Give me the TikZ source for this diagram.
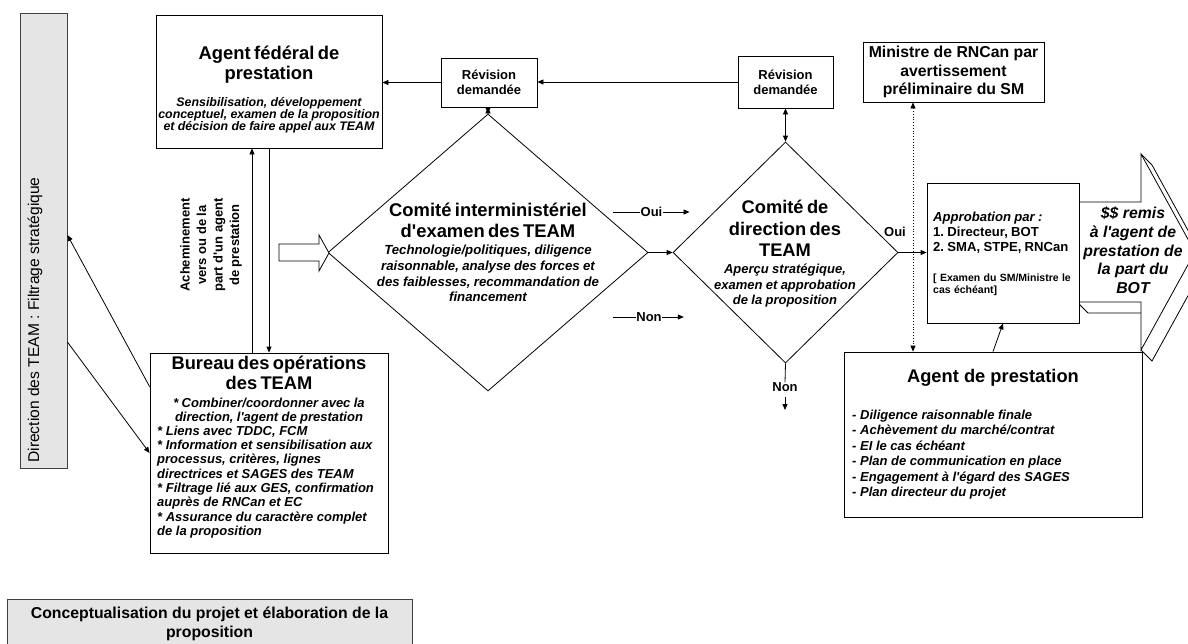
\documentclass[tikz,border=0pt]{standalone}
\usepackage{fontspec}
\setmainfont{Liberation Sans}[Ligatures=TeXOff]
\usetikzlibrary{shapes.geometric,arrows.meta}
\tikzset{
  box/.style={draw, line width=0.8pt, fill=white, inner sep=0pt},
  grey box/.style={draw=black!75, line width=0.8pt, fill=black!10, inner sep=0pt},
  decision/.style={draw, diamond, line width=0.8pt, inner sep=0pt},
  txt/.style={inner sep=0pt, align=center},
  lbl/.style={inner sep=0pt, font=\lblfont},
  flow/.style={line width=0.8pt, -{Triangle[length=6pt,width=5pt]}},
  both flow/.style={line width=0.8pt, {Triangle[length=6pt,width=5pt]}-{Triangle[length=6pt,width=5pt]}},
  }
\newcommand{\lblfont}{\fontsize{13}{15}\selectfont\bfseries}
\newcommand{\bigfont}{\fontsize{15.8}{18.6}\selectfont\bfseries}
\frenchspacing
\hyphenpenalty=10000

\begin{document}
\begin{tikzpicture}[x=1pt,y=-1pt]
            \useasboundingbox (0,0) rectangle (1188,643);
            \clip (0,0) rectangle (1188,643);

            % Left column
            \node[grey box, minimum width=47pt, minimum height=455pt] (dir) at (43.5,240.5) {};
            \node[txt, rotate=90, font=\fontsize{15.6}{18}\selectfont] (dir-txt) at (35,320) {Direction des TEAM : Filtrage stratégique};

            \node[box, minimum width=226pt, minimum height=133pt] (afp) at (269,81.5) {};
            \node[txt, text width=300pt, anchor=north] (afp-txt) at (269,46.2) {\fontsize{18.4}{20}\selectfont\bfseries Agent fédéral de\\prestation\par\vspace{12.3pt}
                \fontsize{12.4}{12.3}\selectfont\bfseries\itshape Sensibilisation, développement\\conceptuel, examen de la proposition\\et décision de faire appel aux TEAM\par};

            \node[box, minimum width=238pt, minimum height=200pt] (bof) at (269,453) {};
            \node[txt, text width=300pt, anchor=north] (bof-top) at (269,356) {\fontsize{18.3}{20}\selectfont\bfseries Bureau des opérations\\des TEAM\par\vspace{3.5pt}
                \fontsize{13}{14.3}\selectfont\bfseries\itshape * Combiner/coordonner avec la\\direction, l'agent de prestation\par};
            \node[txt, align=left, anchor=west, font=\fontsize{13}{14.3}\selectfont\bfseries\itshape] (bof-list) at (157,482) {* Liens avec TDDC, FCM\\* Information et sensibilisation aux\\processus, critères, lignes\\directrices et SAGES des TEAM\\* Filtrage lié aux GES, confirmation\\auprès de RNCan et EC\\* Assurance du caractère complet\\de la proposition};

            \node[txt, rotate=90, font=\fontsize{13}{16.5}\selectfont\bfseries] (ach) at (211,245) {Acheminement\\vers ou de la\\part d'un agent\\de prestation};

            \node[grey box, minimum width=405pt, minimum height=62pt] (concept) at (209.5,630) {};
            \node[txt, font=\bigfont] (concept-txt) at (209.5,624) {Conceptualisation du projet et élaboration de la\\proposition};

            % Committees
            \node[decision, minimum width=320pt, minimum height=277pt] (cie) at (488,252.5) {};
            \node[txt, text width=300pt, anchor=north] (cie-txt) at (488,203.2) {\fontsize{18.4}{21}\selectfont\bfseries Comité interministériel\\d'examen des TEAM\par\vspace{1.1pt}
                \fontsize{13.2}{15.7}\selectfont\bfseries\itshape Technologie/politiques, diligence\\raisonnable, analyse des forces et\\des faiblesses, recommandation de\\financement\par};

            \node[decision, minimum width=225pt, minimum height=221pt] (cdt) at (785.5,252.5) {};
            \node[txt, text width=200pt, anchor=north] (cdt-txt) at (785,200.2) {\fontsize{18.3}{21.5}\selectfont\bfseries Comité de\\direction des\\TEAM\par\vspace{1.2pt}
                \fontsize{13}{15.5}\selectfont\bfseries\itshape Aperçu stratégique,\\examen et approbation\\de la proposition\par};

            \node[box, minimum width=96pt, minimum height=49pt, align=center, font=\lblfont] (rev1) at (489,82.5) {Révision\\demandée};
            \node[box, minimum width=95pt, minimum height=52pt, align=center, font=\lblfont] (rev2) at (785.5,82) {Révision\\demandée};
            \node[box, minimum width=181pt, minimum height=60pt, align=center, font=\bigfont] (mini) at (953.5,72) {Ministre de RNCan par\\avertissement\\préliminaire du SM};

            % 3D arrow
            \draw[line width=0.8pt] (1077,302) -- (1088,313) -- (1141,313);
            \draw[line width=0.8pt] (1141,154) -- (1152,165) -- (1206,263) -- (1152,361) -- (1141,350);
            \draw[line width=0.8pt] (1195,252) -- (1206,263);
            \draw[line width=0.8pt, fill=white] (1077,202) -- (1141,202) -- (1141,154) -- (1195,252) -- (1141,350) -- (1141,302) -- (1077,302) -- cycle;
            \node[txt, font=\fontsize{15.8}{18.7}\selectfont\bfseries\itshape] (bot) at (1133,250.5) {\$\$ remis\\à l'agent de\\prestation de\\la part du\\BOT};

            \node[box, minimum width=152pt, minimum height=140pt] (appr) at (1003,253) {};
            \node[txt, align=left, text width=160pt, anchor=north west] (appr-txt) at (933,211.7) {\fontsize{13.1}{15}\selectfont\bfseries{\itshape Approbation par :}\\1. Directeur, BOT\\2. SMA, STPE, RNCan\par\vspace{18.2pt}
                \fontsize{10.5}{12}\selectfont\bfseries [ Examen du SM/Ministre le\\cas échéant]\par};

            \node[box, minimum width=298pt, minimum height=165pt] (agp) at (993,434.5) {};
            \node[txt, font=\fontsize{18.3}{20}\selectfont\bfseries] (agp-ttl) at (993,378) {Agent de prestation};
            \node[txt, align=left, anchor=west, font=\fontsize{13}{15.5}\selectfont\bfseries\itshape] (agp-list) at (852,454.5) {- Diligence raisonnable finale\\- Achèvement du marché/contrat\\- EI le cas échéant\\- Plan de communication en place\\- Engagement à l'égard des SAGES\\- Plan directeur du projet};

            % Input arrow
            \draw[line width=0.8pt, fill=white] (279,244) -- (319,244) -- (319,235) -- (329,253) -- (319,271) -- (319,261) -- (279,261) -- cycle;

            % Labels
            \node[lbl] (oui1) at (651.5,212) {Oui};
            \node[lbl] (non1) at (649,317) {Non};
            \node[lbl] (non2) at (785,387) {Non};
            \node[lbl] (oui2) at (895,232) {Oui};
            \coordinate (dotx) at (913,0);
            \coordinate (nonend) at (785,410);

            % Connectors
            \draw[flow] (rev1.west) -- (rev1.west -| afp.east);
            \draw[flow] (rev2.west) -- (rev2.west -| rev1.east);
            \draw[both flow] (cie.north) -- (cie.north |- rev1.south);
            \draw[both flow] (cdt.north) -- (cdt.north |- rev2.south);
            \draw[flow] (cie.east) -- (cdt.west);
            \draw[flow] (cdt.east) -- (cdt.east -| appr.west);
            \draw[flow] (agp.north) -- (appr.south);
            \draw[both flow, dotted] (mini.south -| dotx) -- (agp.north -| dotx);
            \draw[flow] ([xshift=-17pt]bof.north) -- ([xshift=-17pt]afp.south);
            \draw[flow] (afp.south) -- (bof.north);
            \draw[flow] ([yshift=-34pt]bof.north west) -- ([yshift=5.5pt]dir.east);
            \draw[flow] ([yshift=-101.5pt]dir.east) -- (bof.west);

            \draw[line width=0.8pt] (oui1.west) -- ++(-27,0);
            \draw[flow] (oui1.east) -- ++(27,0);
            \draw[line width=0.8pt] (non1.west) -- ++(-23,0);
            \draw[flow] (non1.east) -- ++(22,0);
            \draw[line width=0.8pt] (cdt.south) -- (non2.north);
            \draw[flow] ([yshift=-5pt]non2.south) -- (nonend);
\end{tikzpicture}
\end{document}
